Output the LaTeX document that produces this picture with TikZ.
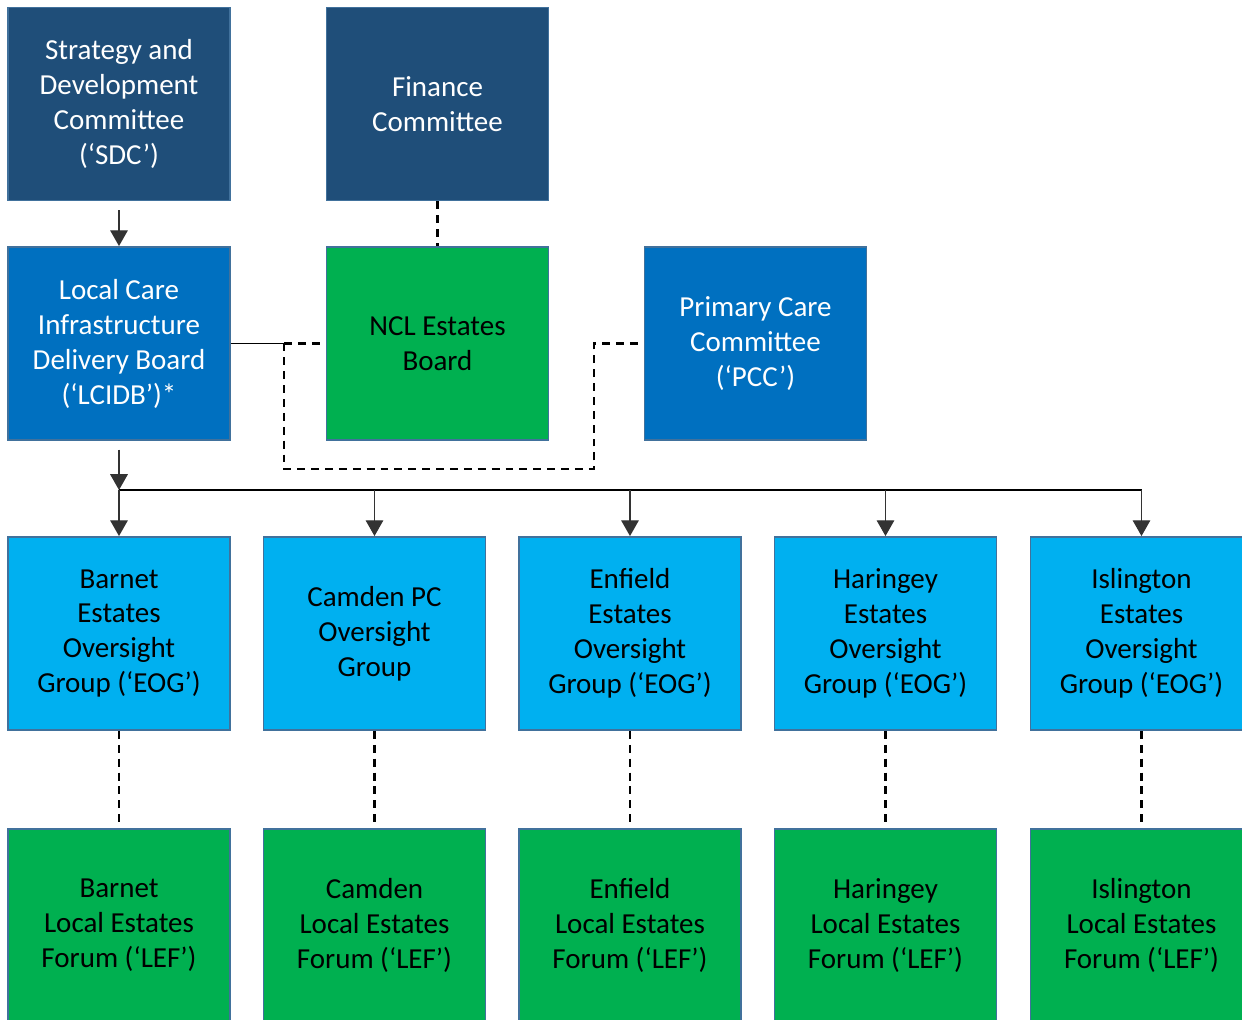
\documentclass[tikz,border=0pt]{standalone}
\usepackage{fontspec}
\setmainfont{Carlito}
\usetikzlibrary{arrows.meta}
\definecolor{navy}{HTML}{1F4E79}
\definecolor{midblue}{HTML}{0070C0}
\definecolor{skyblue}{HTML}{00B0F0}
\definecolor{leafgreen}{HTML}{00B050}
\definecolor{edge}{HTML}{41719C}
\begin{document}
\begin{tikzpicture}[x=0.02cm, y=-0.02cm,
  every node/.style={rectangle, draw=edge, line width=1.1pt, minimum width=4.44cm, minimum height=3.86cm,
    align=center, font=\fontsize{16.5}{19.9}\selectfont, inner sep=0pt},
  topbox/.style={fill=navy, text=white},
  midbox/.style={fill=midblue, text=white},
  eogbox/.style={fill=skyblue, text=black},
  lefbox/.style={fill=leafgreen, text=black},
  feed/.style={draw=black!80, line width=0.85pt, -{Triangle[width=10pt,length=9pt]}},
  link/.style={draw=black, line width=1.2pt, dash pattern=on 4.5pt off 3.4pt}]
\useasboundingbox (0,0) rectangle (1242,1019);
% Committees
\node[topbox] (sdc) at (119, 104) {Strategy and\\Development\\Committee\\(‘SDC’)};
\node[topbox] (fin) at (437.5, 104) {Finance\\Committee};
% Boards
\node[midbox] (lcidb) at (119, 343.5) {Local Care\\Infrastructure\\Delivery Board\\(‘LCIDB’)*};
\node[lefbox] (ncl) at (437.5, 343.5) {NCL Estates\\Board};
\node[midbox] (pcc) at (755.5, 343.5) {Primary Care\\Committee\\(‘PCC’)};
% Oversight groups
\node[eogbox] (eogBarnet) at (119, 633.5) {Barnet\\Estates\\Oversight\\Group (‘EOG’)};
\node[eogbox] (eogCamden) at (374.5, 633.5) {Camden PC\\Oversight\\Group};
\node[eogbox] (eogEnfield) at (630, 633.5) {Enfield\\Estates\\Oversight\\Group (‘EOG’)};
\node[eogbox] (eogHaringey) at (885.5, 633.5) {Haringey\\Estates\\Oversight\\Group (‘EOG’)};
\node[eogbox] (eogIslington) at (1141.5, 633.5) {Islington\\Estates\\Oversight\\Group (‘EOG’)};
% Local estates forums
\node[lefbox] (lefBarnet) at (119, 925.5) {Barnet\\Local Estates\\Forum (‘LEF’)};
\node[lefbox] (lefCamden) at (374.5, 925.5) {Camden\\Local Estates\\Forum (‘LEF’)};
\node[lefbox] (lefEnfield) at (630, 925.5) {Enfield\\Local Estates\\Forum (‘LEF’)};
\node[lefbox] (lefHaringey) at (885.5, 925.5) {Haringey\\Local Estates\\Forum (‘LEF’)};
\node[lefbox] (lefIslington) at (1141.5, 925.5) {Islington\\Local Estates\\Forum (‘LEF’)};
% Connectors
\coordinate (split) at (284, 343.5);
\coordinate (loop) at (594, 469);
\coordinate (bus) at (119, 490);
\draw[feed, shorten <=5] (sdc) -- (lcidb);
\draw[link] (fin) -- (ncl);
\draw[line width=1.1pt] (lcidb.east) -- (split);
\draw[link] (split) -- (ncl.west);
\draw[link] (split) |- (loop) |- (pcc.west);
\draw[feed, shorten <=5] (lcidb) -- (bus);
\draw[line width=0.85pt] (bus) -- (bus -| eogIslington);
\foreach \g in {Barnet, Camden, Enfield, Haringey, Islington}
  {\draw[feed] (bus -| eog\g) -- (eog\g);
   \draw[link] (eog\g) -- (lef\g);}
\end{tikzpicture}
\end{document}
